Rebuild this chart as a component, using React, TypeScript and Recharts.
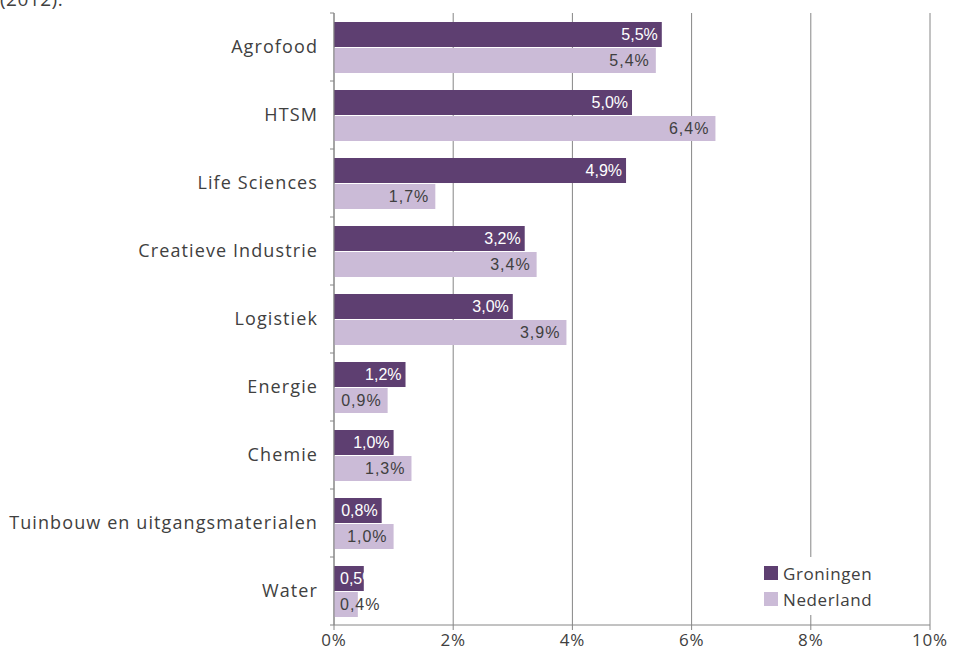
import { Bar, BarChart, CartesianGrid, LabelList, Legend, XAxis, YAxis } from "recharts";

const categories = [
  "Agrofood",
  "HTSM",
  "Life Sciences",
  "Creatieve Industrie",
  "Logistiek",
  "Energie",
  "Chemie",
  "Tuinbouw en uitgangsmaterialen",
  "Water",
];
const groningen = [5.5, 5.0, 4.9, 3.2, 3.0, 1.2, 1.0, 0.8, 0.5];
const nederland = [5.4, 6.4, 1.7, 3.4, 3.9, 0.9, 1.3, 1.0, 0.4];
const xTicks = [0, 2, 4, 6, 8, 10];

const DARK = "#5e3f71";
const LIGHT = "#cbbbd7";
const TEXT = "#404040";
const AXIS_FONT = "'Open Sans', sans-serif";

const rows = categories.map((name, i) => ({
  name,
  groningen: groningen[i],
  nederland: nederland[i],
}));

const fmtPct = (v: number) => v.toFixed(1).replace(".", ",") + "%";

// inside-end label, falls back to the bar base when the bar is too short
const barLabel =
  (color: string, pad: number, spacing: number) =>
  (props: { x?: number; y?: number; width?: number; height?: number; value?: number }) => {
    const x = Number(props.x ?? 0);
    const y = Number(props.y ?? 0);
    const w = Number(props.width ?? 0);
    const h = Number(props.height ?? 0);
    const fits = w >= 46;
    return (
      <text
        x={fits ? x + w - pad : x + 6}
        y={y + h / 2}
        dy="0.36em"
        textAnchor={fits ? "end" : "start"}
        fill={color}
        fontSize={16}
        letterSpacing={spacing}
        fontFamily="'Liberation Sans', Arial, sans-serif"
      >
        {fmtPct(Number(props.value))}
      </text>
    );
  };

function CategoryTick(props: {
  x?: number;
  y?: number;
  index?: number;
  payload?: { value?: string; offset?: number };
}) {
  const x = Number(props.x ?? 0);
  const y = Number(props.y ?? 0);
  const half = props.payload?.offset ?? 34;
  const axisX = x + 16;
  const last = props.index === categories.length - 1;
  return (
    <g>
      <line x1={axisX - 4} x2={axisX} y1={y - half} y2={y - half} stroke="#868686" />
      {last && <line x1={axisX - 4} x2={axisX} y1={y + half} y2={y + half} stroke="#868686" />}
      <text
        x={x}
        y={y}
        dy="0.36em"
        textAnchor="end"
        fill={TEXT}
        fontSize={18}
        fontFamily={AXIS_FONT}
        letterSpacing={1.1}
      >
        {props.payload?.value}
      </text>
    </g>
  );
}

function LegendBox() {
  const items = [
    { label: "Groningen", color: DARK },
    { label: "Nederland", color: LIGHT },
  ];
  return (
    <div style={{ background: "#fff", padding: "3px 4px", fontFamily: AXIS_FONT }}>
      {items.map((it) => (
        <div key={it.label} style={{ display: "flex", alignItems: "center", height: 26 }}>
          <span style={{ width: 14, height: 14, background: it.color, marginRight: 5 }} />
          <span style={{ fontSize: 17, color: TEXT, letterSpacing: 0.6 }}>{it.label}</span>
        </div>
      ))}
    </div>
  );
}

export default function App() {
  return (
    <div style={{ position: "absolute", left: 0, top: 0, width: 955, height: 668, background: "#fff", overflow: "hidden" }}>
      <div
        style={{
          position: "absolute",
          left: 0,
          top: -14,
          fontFamily: AXIS_FONT,
          fontSize: 19,
          color: TEXT,
          letterSpacing: 0.5,
        }}
      >
        (2012).
      </div>
      <BarChart
        width={955}
        height={668}
        data={rows}
        layout="vertical"
        margin={{ top: 13, right: 25, bottom: 0, left: 0 }}
        barGap={1}
        barSize={25}
      >
        <CartesianGrid horizontal={false} stroke="#868686" />
        <XAxis
          type="number"
          domain={[0, 10]}
          ticks={xTicks}
          tickFormatter={(v) => `${v}%`}
          height={43}
          tickSize={5}
          tickMargin={4}
          stroke="#868686"
          tick={{ fill: TEXT, fontSize: 17, fontFamily: AXIS_FONT, letterSpacing: 0.8 }}
        />
        <YAxis
          type="category"
          dataKey="name"
          width={334}
          stroke="#868686"
          tickLine={false}
          tickSize={4}
          tickMargin={12}
          interval={0}
          tick={<CategoryTick />}
        />
        <Legend
          layout="vertical"
          verticalAlign="middle"
          align="center"
          wrapperStyle={{ left: 760, top: 557, width: "auto" }}
          content={() => <LegendBox />}
        />
        <Bar dataKey="groningen" fill={DARK} isAnimationActive={false}>
          <LabelList dataKey="groningen" content={barLabel("#ffffff", 4, 0)} />
        </Bar>
        <Bar dataKey="nederland" fill={LIGHT} isAnimationActive={false}>
          <LabelList dataKey="nederland" content={barLabel(TEXT, 6, 1)} />
        </Bar>
      </BarChart>
    </div>
  );
}
